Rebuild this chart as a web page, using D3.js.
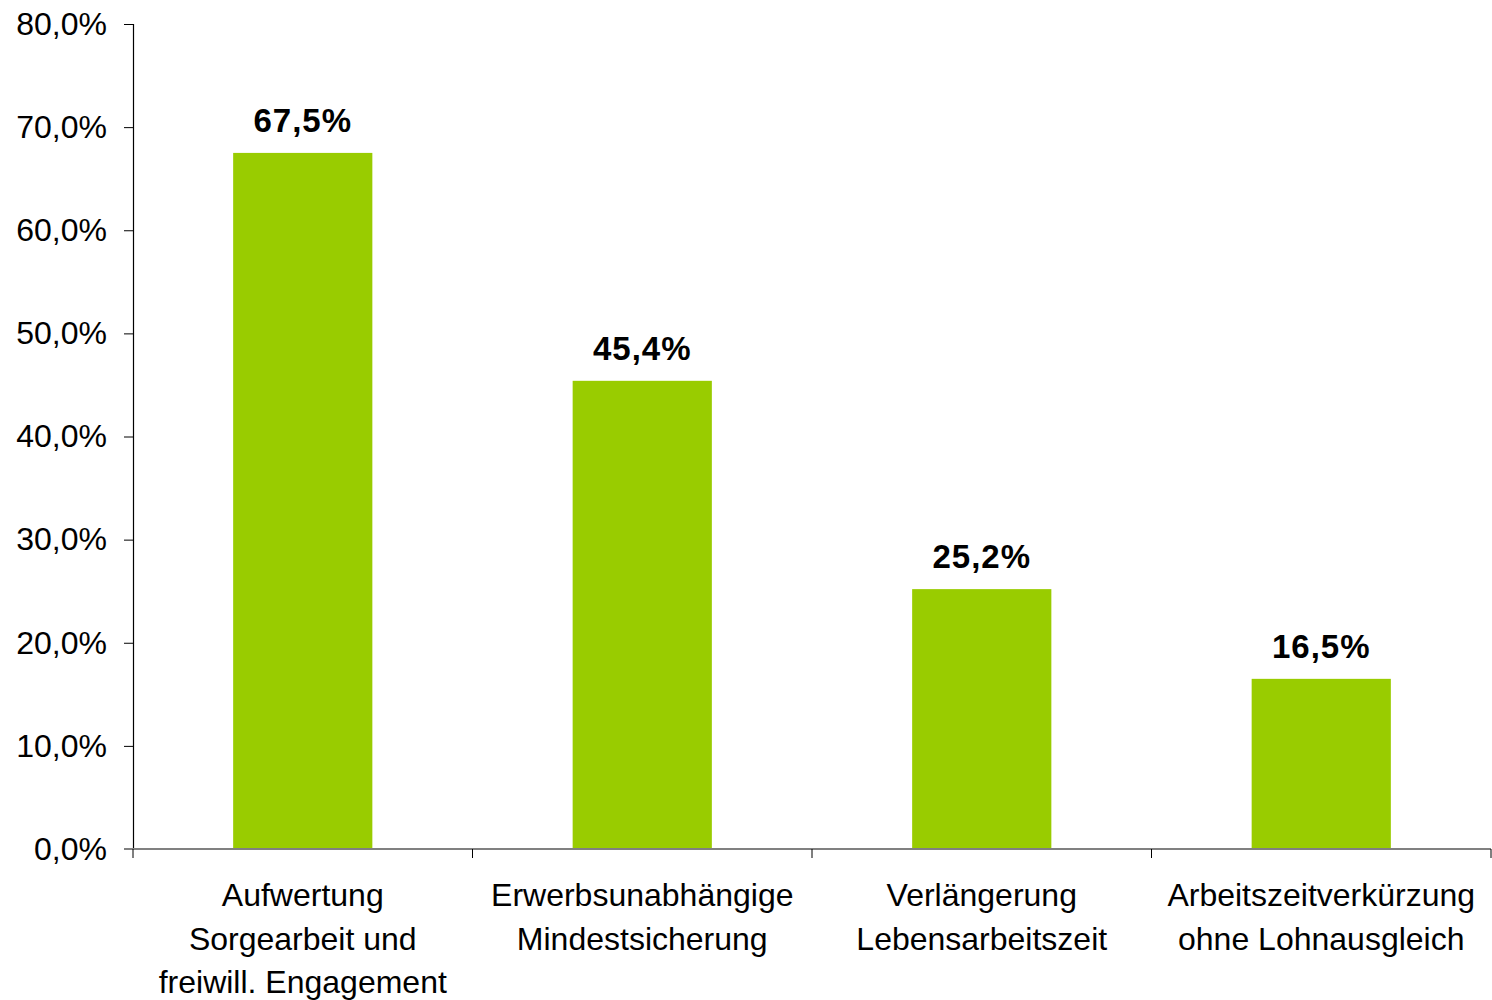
<!DOCTYPE html>
<html>
<head>
<meta charset="utf-8">
<script src="https://cdn.jsdelivr.net/npm/d3@7"></script>
<style>
  body { margin: 0; background: #fff; }
  text { font-family: "Liberation Sans", Arial, sans-serif; }
</style>
</head>
<body>
<svg id="chart" width="1492" height="1000"></svg>
<script>
// Data
const categories = [
  ["Aufwertung", "Sorgearbeit und", "freiwill. Engagement"],
  ["Erwerbsunabhängige", "Mindestsicherung"],
  ["Verlängerung", "Lebensarbeitszeit"],
  ["Arbeitszeitverkürzung", "ohne Lohnausgleich"]
];
const values = [67.5, 45.4, 25.2, 16.5];
const yTicks = [0, 10, 20, 30, 40, 50, 60, 70, 80];

const fmt = v => v.toFixed(1).replace(".", ",") + "%";

// Layout
const plotLeft = 133, plotRight = 1491, plotTop = 24, plotBottom = 849;
const svg = d3.select("#chart");

const x = d3.scaleBand()
    .domain(d3.range(categories.length))
    .range([plotLeft, plotRight])
    .padding(0);

const y = d3.scaleLinear()
    .domain([0, 80])
    .range([plotBottom, plotTop]);

const barW = x.bandwidth() * 0.41;

// Bars
svg.append("g").selectAll("rect")
    .data(values)
    .join("rect")
    .attr("x", (d, i) => x(i) + (x.bandwidth() - barW) / 2)
    .attr("y", d => y(d))
    .attr("width", barW)
    .attr("height", d => y(0) - y(d))
    .attr("fill", "#99cc00");

// Value labels
svg.append("g").selectAll("text")
    .data(values)
    .join("text")
    .attr("x", (d, i) => x(i) + x.bandwidth() / 2)
    .attr("y", d => y(d) - 21)
    .attr("text-anchor", "middle")
    .attr("font-size", 33)
    .attr("font-weight", "bold")
    .attr("letter-spacing", 1)
    .attr("fill", "#000")
    .text(d => fmt(d));

// Y axis
const yAxis = svg.append("g")
    .attr("transform", `translate(${plotLeft},0)`)
    .call(d3.axisLeft(y).tickValues(yTicks).tickSize(9).tickPadding(17).tickFormat(fmt));
yAxis.select(".domain").attr("stroke", "#000").attr("stroke-width", 1.2);
yAxis.selectAll(".tick line").attr("stroke", "#000");
yAxis.selectAll(".tick text")
    .attr("font-size", 32)
    .attr("fill", "#000")
    .attr("font-family", "Liberation Sans, Arial, sans-serif");

// X axis
const xAxisG = svg.append("g").attr("transform", `translate(0,${plotBottom})`);
xAxisG.append("line")
    .attr("x1", plotLeft - 9).attr("x2", plotRight)
    .attr("stroke", "#808080").attr("stroke-width", 2);
xAxisG.selectAll("line.tk")
    .data(d3.range(categories.length + 1))
    .join("line")
    .attr("class", "tk")
    .attr("x1", i => i < categories.length ? x(i) : plotRight)
    .attr("x2", i => i < categories.length ? x(i) : plotRight)
    .attr("y1", 0).attr("y2", 9)
    .attr("stroke", "#000").attr("stroke-width", 1);

// Category labels
const cat = svg.append("g").selectAll("text")
    .data(categories)
    .join("text")
    .attr("text-anchor", "middle")
    .attr("font-size", 32)
    .attr("fill", "#000");
cat.each(function(lines, i) {
  d3.select(this).selectAll("tspan")
    .data(lines)
    .join("tspan")
    .attr("x", x(i) + x.bandwidth() / 2)
    .attr("y", (d, j) => 906 + j * 43.5)
    .text(d => d);
});
</script>
</body>
</html>
